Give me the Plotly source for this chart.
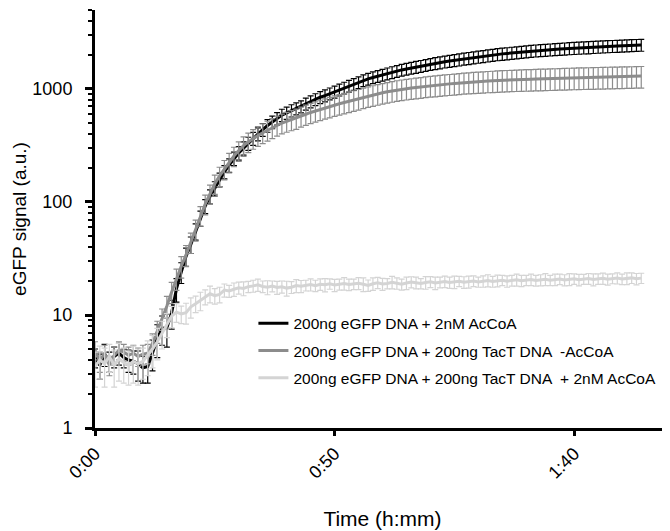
import plotly.graph_objects as go

time_min = list(range(0, 115))

names = [
    "200ng eGFP DNA + 2nM AcCoA",
    "200ng eGFP DNA + 200ng TacT DNA  -AcCoA",
    "200ng eGFP DNA + 200ng TacT DNA  + 2nM AcCoA",
]

black_vals = [4.2, 3.6, 4.5, 3.9, 4.3, 4.6, 4.2, 4.0, 3.9, 3.7, 3.4, 3.5, 4.6, 6.2, 7.6, 7.7, 10.5, 17, 24,
              33, 42, 55, 72, 92, 112, 132, 158, 185, 212, 243, 272, 300, 330, 365, 400, 438, 475, 510, 548,
              588, 615, 645, 672, 700, 740, 775, 810, 845, 875, 910, 945, 985, 1025, 1065, 1105, 1145, 1190,
              1230, 1265, 1300, 1335, 1370, 1405, 1440, 1475, 1505, 1535, 1565, 1595, 1625, 1660, 1690, 1715,
              1745, 1770, 1795, 1820, 1850, 1875, 1900, 1925, 1950, 1975, 2000, 2025, 2045, 2065, 2085, 2105,
              2125, 2145, 2165, 2185, 2200, 2215, 2230, 2245, 2260, 2275, 2290, 2300, 2312, 2325, 2335, 2348,
              2360, 2372, 2383, 2395, 2405, 2415, 2425, 2435, 2445, 2455]
black_err = [0.8, 0.9, 1.0, 0.8, 0.9, 1.0, 0.8, 0.9, 0.9, 1.1, 0.9, 1.0, 1.4, 2.0, 2.2, 2.5, 3.0, 4, 5, 6, 7, 9,
             11, 13, 16, 19, 22, 25, 29, 33, 37, 40, 44, 48, 52, 57, 61, 65, 70, 74, 77, 80, 83, 86, 90, 94, 98,
             102, 106, 110, 114, 118, 122, 127, 131, 136, 141, 146, 150, 155, 159, 164, 168, 172, 176, 180, 184,
             188, 192, 196, 200, 204, 208, 212, 215, 218, 222, 226, 229, 232, 235, 238, 241, 244, 247, 250, 252,
             255, 257, 260, 262, 264, 266, 268, 270, 272, 274, 276, 278, 280, 281, 283, 284, 286, 287, 289, 290,
             291, 292, 293, 294, 295, 296, 297, 298]

gray_vals = [4.9, 3.9, 4.6, 3.6, 4.4, 4.9, 4.7, 4.4, 4.6, 4.3, 4.5, 4.6, 5.6, 7.2, 9.3, 12, 16, 21, 27, 34, 44,
             57, 76, 96, 118, 145, 170, 195, 225, 255, 285, 315, 340, 365, 388, 410, 432, 455, 478, 500, 518,
             535, 552, 575, 598, 620, 640, 660, 680, 700, 720, 740, 760, 780, 800, 820, 845, 865, 885, 905, 925,
             945, 962, 980, 995, 1008, 1020, 1032, 1045, 1058, 1070, 1080, 1090, 1100, 1110, 1120, 1130, 1140,
             1148, 1156, 1163, 1170, 1177, 1183, 1190, 1195, 1200, 1205, 1210, 1214, 1218, 1222, 1226, 1230,
             1234, 1238, 1242, 1246, 1250, 1254, 1258, 1261, 1264, 1267, 1270, 1273, 1276, 1279, 1282, 1285,
             1288, 1291, 1294, 1297, 1300]
gray_err = [0.9, 0.8, 0.8, 0.7, 0.8, 0.9, 0.8, 0.8, 0.8, 0.8, 0.9, 0.9, 1.2, 1.6, 2.0, 2.6, 3.4, 4.5, 5.8, 7.2, 9,
            12, 15, 19, 23, 28, 33, 38, 44, 50, 56, 62, 67, 72, 77, 82, 86, 91, 96, 100, 104, 108, 112, 116, 121,
            126, 130, 135, 139, 144, 148, 152, 157, 161, 165, 170, 174, 178, 183, 187, 191, 195, 199, 203, 206,
            209, 212, 215, 218, 221, 224, 227, 229, 232, 234, 236, 238, 241, 243, 245, 247, 249, 251, 253, 255,
            256, 258, 259, 260, 262, 263, 264, 265, 266, 267, 268, 269, 270, 271, 272, 273, 274, 274, 275, 276,
            276, 277, 278, 278, 279, 279, 280, 280, 281, 281]

light_vals = [3.5, 4.0, 3.7, 4.3, 3.6, 4.1, 3.8, 3.6, 3.9, 3.7, 3.9, 4.4, 5.0, 5.8, 6.9, 8.3, 9.8, 10.6, 10.2,
              10.5, 11.8, 12.6, 13.4, 14.5, 15.4, 14.8, 15.2, 16.6, 16.3, 16.9, 17.4, 17.2, 17.8, 18.1, 18.5,
              17.9, 17.6, 18.0, 17.5, 17.8, 17.3, 17.6, 18.2, 18.0, 18.3, 18.6, 18.2, 18.7, 18.5, 18.9, 18.4,
              18.7, 19.0, 18.6, 18.8, 19.1, 18.7, 18.3, 18.9, 19.3, 18.8, 19.0, 19.5, 19.1, 18.7, 19.2, 19.6,
              19.3, 19.0, 19.4, 19.7, 19.2, 19.5, 19.8, 19.4, 19.6, 19.9, 19.5, 19.7, 20.0, 19.6, 19.9, 20.2,
              19.8, 20.1, 20.3, 19.9, 20.2, 20.5, 20.1, 20.3, 20.6, 20.2, 20.4, 20.7, 20.3, 20.6, 20.8, 20.4,
              20.7, 20.9, 20.5, 20.8, 21.0, 20.6, 20.9, 21.1, 20.7, 21.0, 21.2, 20.8, 21.1, 21.3, 20.9, 21.2]
light_err = [1.2, 1.3, 1.4, 1.2, 1.3, 1.5, 1.3, 1.2, 1.4, 1.3, 1.2, 1.5, 1.6, 1.8, 1.9, 2.0, 2.1, 2.0, 1.8, 2.2,
             2.4, 2.1, 2.5, 2.2, 2.6, 2.3, 2.4, 2.2, 2.0, 2.3, 2.1, 2.4, 2.0, 2.2, 2.3, 2.1, 2.5, 2.0, 2.3, 2.2,
             2.6, 2.1, 2.4, 2.2, 2.0, 2.3, 2.1, 2.2, 2.5, 2.0, 2.3, 2.1, 2.4, 2.2, 2.0, 2.3, 2.6, 2.1, 2.4, 2.2,
             2.3, 2.0, 2.5, 2.2, 2.1, 2.4, 2.2, 2.3, 2.0, 2.5, 2.2, 2.4, 2.1, 2.3, 2.2, 2.5, 2.1, 2.3, 2.4, 2.2,
             2.0, 2.3, 2.5, 2.2, 2.4, 2.1, 2.3, 2.2, 2.5, 2.3, 2.1, 2.4, 2.2, 2.3, 2.5, 2.1, 2.4, 2.2, 2.3, 2.5,
             2.2, 2.4, 2.1, 2.3, 2.5, 2.2, 2.4, 2.3, 2.1, 2.4, 2.2, 2.5, 2.3, 2.4, 2.2]

x_tickvals = [0, 50, 100]
x_ticktext = ["0:00", "0:50", "1:40"]
y_tickvals = [1, 10, 100, 1000]
y_ticktext = ["1", "10", "100", "1000"]
y_minor = [2, 3, 4, 5, 6, 7, 8, 9, 20, 30, 40, 50, 60, 70, 80, 90,
           200, 300, 400, 500, 600, 700, 800, 900, 2000, 3000, 4000, 5000]

colors = ["#000000", "#8c8c8c", "#d4d4d4"]
series = [(black_vals, black_err), (gray_vals, gray_err), (light_vals, light_err)]

FONT = "Liberation Sans, Arial, Helvetica, sans-serif"

fig = go.Figure()
for i, ((vals, err), name, col) in enumerate(zip(series, names, colors)):
    fig.add_trace(go.Scatter(
        x=time_min, y=vals, name=name, mode="lines",
        line=dict(color=col, width=3),
        error_y=dict(type="data", array=err, visible=True, color=col, thickness=1.2, width=3),
        legendgroup=f"g{i}",
    ))

# the page body adds an 8px offset, so the figure is sized to fit the 670x531 window
fig.update_layout(
    width=662, height=523,
    margin=dict(l=87, r=0, t=2, b=103),
    paper_bgcolor="white", plot_bgcolor="white",
    font=dict(family=FONT, color="black"),
    showlegend=True,
    legend=dict(x=0.2755, y=0.29, xanchor="left", yanchor="top",
                bgcolor="rgba(0,0,0,0)", font=dict(size=15.5, family=FONT),
                tracegroupgap=4, itemwidth=30),
    xaxis=dict(range=[0, 120], showgrid=False, zeroline=False, automargin=False,
               showline=True, linecolor="black", linewidth=3,
               ticks="outside", ticklen=5, tickwidth=3, tickcolor="black",
               tickvals=x_tickvals, ticktext=x_ticktext, tickangle=-45,
               tickfont=dict(size=18),
               title=dict(text="Time (h:mm)", font=dict(size=21), standoff=30)),
    yaxis=dict(type="log", range=[0, 3.699], showgrid=False, zeroline=False, automargin=False,
               showline=True, linecolor="black", linewidth=3,
               ticks="outside", ticklen=7, tickwidth=2.5, tickcolor="black",
               tickvals=y_tickvals, ticktext=y_ticktext, ticklabelstandoff=9,
               tickfont=dict(size=18),
               minor=dict(tickvals=y_minor, ticks="outside", ticklen=4, tickwidth=2, tickcolor="black"),
               title=dict(text="eGFP signal (a.u.)", font=dict(size=19), standoff=1)),
)

fig.write_html("out.html")
